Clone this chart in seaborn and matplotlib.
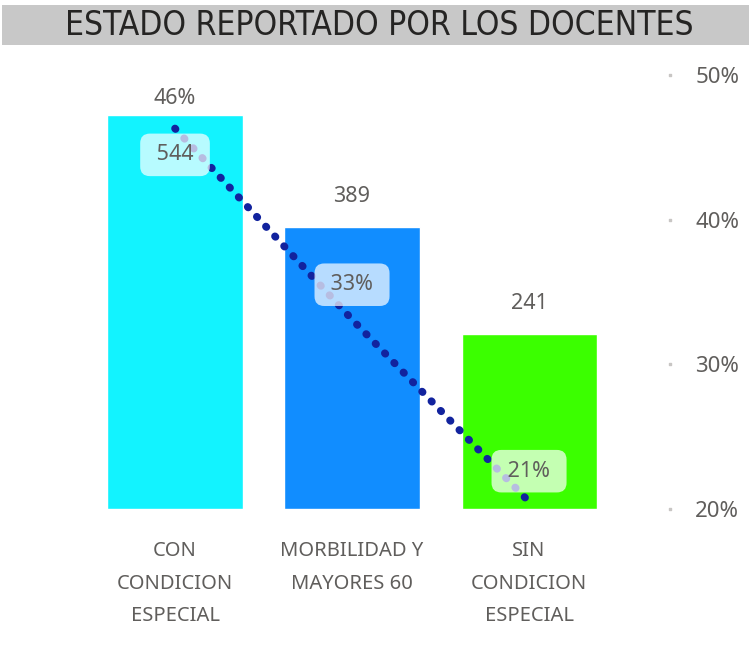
import numpy as np
import pandas as pd
import seaborn as sns
import matplotlib.pyplot as plt
from matplotlib.patches import Rectangle
import matplotlib.transforms as mtransforms

# datos
categorias = ['CON\nCONDICION\nESPECIAL', 'MORBILIDAD Y\nMAYORES 60', 'SIN\nCONDICION\nESPECIAL']
docentes = [544, 389, 241]
porcentaje = [46.3, 33.1, 20.5]
etiqueta_barra = ['46%', '389', '241']
etiqueta_caja = ['544', '33%', '21%']
colores = ['#12F3FF', '#118DFF', '#3BFF00']
ticks_pct = [20, 30, 40, 50]

gris = '#605E5C'
sns.set_style('white')
plt.rcParams['font.family'] = ['Noto Sans', 'DejaVu Sans']

fig = plt.figure(figsize=(7.49, 6.45), dpi=100)
ax = fig.add_axes([0.1155, 0.2109, 0.709, 0.6729])

df = pd.DataFrame({'cat': categorias, 'n': docentes})
sns.barplot(data=df, x='cat', y='n', hue='cat', palette=colores, width=0.763,
            saturation=1, legend=False, ax=ax)
ax.set_ylim(0, 599)
ax.set_xlim(-0.5, 2.5)
ax.set_xlabel('')
ax.set_ylabel('')
ax.set_yticks([])
ax.tick_params(axis='x', length=0, pad=23, labelsize=14.5, labelcolor=gris)
for lab in ax.get_xticklabels():
    lab.set_linespacing(1.85)
    lab.set_verticalalignment('top')
sns.despine(ax=ax, left=True, bottom=True)

# etiquetas sobre las barras
offs = [12, 22, 22]
for i, (v, t) in enumerate(zip(docentes, etiqueta_barra)):
    ax.annotate(t, (i, v), xytext=(0, offs[i]), textcoords='offset points',
                ha='center', va='center', fontsize=15.5, color=gris, annotation_clip=False)

# linea de porcentaje
ax2 = ax.twinx()
x = np.arange(len(porcentaje))
sns.lineplot(x=x, y=porcentaje, ax=ax2, color='#12239E', lw=5.5,
             linestyle=(0, (0.1, 1.65)), dash_capstyle='round', zorder=3)
ax2.set_ylim(20, 50)
ax2.set_xlim(-0.5, 2.5)
ax2.set_yticks(ticks_pct)
ax2.set_yticklabels([f'{t}%' for t in ticks_pct])
ax2.tick_params(axis='y', length=0, pad=56, labelsize=16, labelcolor=gris)
sns.despine(ax=ax2, left=True, bottom=True, right=True)

# puntitos de las marcas del eje derecho
tr = mtransforms.blended_transform_factory(ax2.transAxes, ax2.transData)
ax2.scatter([1.098] * len(ticks_pct), ticks_pct, s=3, color='#C8C6C4', marker='s',
            transform=tr, clip_on=False)

# cajas con etiquetas de la linea
box_offs = [-19, 25, 22]
for i, (p, t) in enumerate(zip(porcentaje, etiqueta_caja)):
    ax2.annotate(f' {t} ', (i, p), xytext=(0, box_offs[i]), textcoords='offset points',
                 ha='center', va='center', fontsize=15.5, color=gris, zorder=5,
                 bbox=dict(boxstyle='round,pad=0.5,rounding_size=0.45', fc='white',
                           ec='none', alpha=0.7), annotation_clip=False)

# banda del titulo
fig.patches.append(Rectangle((0.003, 0.930), 0.997, 0.062, transform=fig.transFigure,
                             facecolor='#C8C8C8', edgecolor='none', zorder=0))
fig.text(0.506, 0.960, 'ESTADO REPORTADO POR LOS DOCENTES', ha='center', va='center',
         fontsize=24, color='#252423', family=['Liberation Sans Narrow', 'DejaVu Sans'],
         fontstretch='condensed')

fig.savefig('out.png', dpi=100)
